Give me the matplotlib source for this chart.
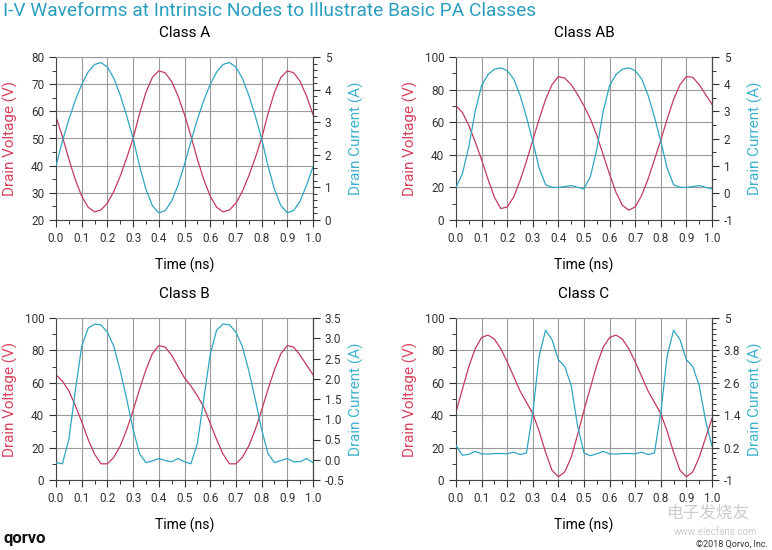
import numpy as np
import matplotlib
matplotlib.use("Agg")
import matplotlib.pyplot as plt
from matplotlib.ticker import MultipleLocator, FixedLocator, FormatStrFormatter

plt.rcParams['font.family'] = ['Roboto', 'DejaVu Sans']

## time axis, read every 0.025 ns
t = [0.0, 0.025, 0.05, 0.075, 0.1, 0.125, 0.15, 0.175, 0.2, 0.225,
     0.25, 0.275, 0.3, 0.325, 0.35, 0.375, 0.4, 0.425, 0.45, 0.475,
     0.5, 0.525, 0.55, 0.575, 0.6, 0.625, 0.65, 0.675, 0.7, 0.725,
     0.75, 0.775, 0.8, 0.825, 0.85, 0.875, 0.9, 0.925, 0.95, 0.975, 1.0]

## Class A
va = [58, 50.7, 42.4, 34.9, 28.8, 24.7, 23.0, 23.7, 26.2, 30.5,
      36.2, 42.8, 50, 59.1, 67.0, 72.5, 74.9, 74.2, 71.0, 65.6,
      58.8, 50.9, 42.4, 34.9, 28.8, 24.7, 23.0, 23.7, 26.2, 30.5,
      36.2, 42.8, 50, 59.1, 67.0, 72.5, 74.9, 74.2, 71.0, 65.6, 58.8]
ia = [1.66, 2.42, 3.08, 3.67, 4.16, 4.54, 4.77, 4.83, 4.69, 4.35,
      3.83, 3.20, 2.5, 1.66, 0.94, 0.44, 0.22, 0.29, 0.58, 1.07,
      1.70, 2.41, 3.08, 3.67, 4.16, 4.54, 4.77, 4.83, 4.69, 4.35,
      3.83, 3.20, 2.5, 1.66, 0.94, 0.44, 0.22, 0.29, 0.58, 1.07, 1.63]

## Class AB
vab = [70, 66, 58, 48, 37, 25, 14, 7, 8, 14,
       24, 36, 49, 62, 74, 83, 88, 87, 83, 77,
       70, 62, 52, 40, 28, 17, 9, 6, 8, 15,
       25, 37, 49, 62, 74, 83, 88, 87.5, 83, 77, 71]
iab = [0.2, 0.7, 1.7, 3.0, 3.95, 4.35, 4.55, 4.6, 4.5, 4.2,
       3.6, 2.8, 1.9, 0.9, 0.3, 0.2, 0.2, 0.23, 0.27, 0.2,
       0.15, 0.6, 1.6, 3.0, 3.95, 4.35, 4.55, 4.6, 4.5, 4.2,
       3.6, 2.8, 1.9, 0.9, 0.3, 0.2, 0.2, 0.23, 0.27, 0.2, 0.15]

## Class B
vb = [65, 61, 55, 46, 36, 25, 16, 10, 10, 14,
      21, 31, 43, 56, 68, 78, 83, 82, 77, 70,
      63, 58, 52, 45, 35, 25, 16, 10, 10, 14,
      21, 31, 43, 56, 68, 78, 83, 82, 77, 71, 65]
ib = [-0.07, -0.1, 0.5, 1.7, 2.8, 3.25, 3.35, 3.33, 3.15, 2.8,
      2.2, 1.5, 0.75, 0.15, -0.07, -0.03, 0.03, -0.02, -0.05, 0.03,
      -0.05, -0.1, 0.4, 1.5, 2.6, 3.2, 3.35, 3.33, 3.15, 2.8,
      2.2, 1.5, 0.75, 0.15, -0.07, -0.02, 0.03, -0.05, -0.05, 0.03, -0.07]

## Class C
vc = [42, 56, 70, 81, 88, 89.5, 87, 81, 73, 64,
      55, 48, 41, 30, 17, 6, 2, 5, 14, 28,
      43, 57, 71, 82, 88, 89.5, 87, 81, 73, 64,
      55, 48, 41, 30, 17, 6, 2, 5, 14, 26, 38]
ic = [0.28, -0.08, -0.05, 0.06, -0.03, -0.04, -0.02, -0.02, -0.03, 0.03,
      -0.06, 0.0, 1.5, 3.6, 4.55, 4.2, 3.45, 3.2, 2.5, 1.0,
      0.0, -0.1, -0.03, 0.06, -0.03, -0.04, -0.02, -0.02, -0.03, 0.03,
      -0.06, 0.0, 1.5, 3.6, 4.55, 4.2, 3.45, 3.2, 2.5, 1.2, 0.25]

red = '#c23a5c'
cyan = '#2ea6c2'
red_lab = '#d8435f'
cyan_lab = '#3cb2d0'
grid_c = '#9a9a9a'

fig = plt.figure(figsize=(7.72, 5.5), dpi=100)
W, H = 772.0, 550.0


def panel(box, title, v, i, vlim, vmaj, vmin, ilim, iticks, iminor, ilabels):
    l, tp, r, b = box
    ax = fig.add_axes([l / W, 1 - b / H, (r - l) / W, (b - tp) / H])
    ax.plot(t, v, color=red, lw=0.9, solid_joinstyle='round')
    ax.set_xlim(0, 1)
    ax.set_ylim(*vlim)
    ax.xaxis.set_major_locator(FixedLocator(np.arange(0, 1.01, 0.1)))
    ax.xaxis.set_major_formatter(FormatStrFormatter('%.1f'))
    ax.xaxis.set_minor_locator(FixedLocator(np.arange(0.05, 1.0, 0.1)))
    ax.yaxis.set_major_locator(MultipleLocator(vmaj))
    ax.yaxis.set_minor_locator(MultipleLocator(vmin))
    ax.grid(True, which='major', color=grid_c, lw=0.8)
    ax.tick_params(labelsize=8.5, colors='#333333', length=5, width=0.8)
    ax.tick_params(which='minor', length=3, width=0.7, colors='#333333')
    for s in ax.spines.values():
        s.set_color('#444444')
        s.set_linewidth(0.8)
    ax.spines['top'].set_color(grid_c)

    ax2 = ax.twinx()
    ax2.plot(t, i, color=cyan, lw=0.9, solid_joinstyle='round')
    ax2.set_ylim(*ilim)
    ax2.yaxis.set_major_locator(FixedLocator(iticks))
    ax2.set_yticklabels(ilabels)
    ax2.yaxis.set_minor_locator(FixedLocator(iminor))
    ax2.tick_params(labelsize=8.5, colors='#333333', length=5, width=0.8)
    ax2.tick_params(which='minor', length=3, width=0.7, colors='#333333')
    for s in ax2.spines.values():
        s.set_visible(False)
    ax2.spines['right'].set_visible(True)
    ax2.spines['right'].set_color('#444444')
    ax2.spines['right'].set_linewidth(0.8)

    cx = (l + r) / 2 / W
    fig.text(cx, 1 - (tp - 24) / H, title, ha='center', va='center', fontsize=11)
    fig.text(cx, 1 - (b + 45) / H, 'Time (ns)', ha='center', va='center', fontsize=10)
    fig.text((l - 46) / W, 1 - (tp + b) / 2 / H, 'Drain Voltage (V)', rotation=90,
             ha='center', va='center', fontsize=11, color=red_lab)
    fig.text((r + 43) / W, 1 - (tp + b) / 2 / H, 'Drain Current (A)', rotation=90,
             ha='center', va='center', fontsize=11, color=cyan_lab)
    return ax


panel((56, 57, 313, 220), 'Class A', va, ia, (20, 80), 10, 5, (0, 5),
      [0, 1, 2, 3, 4, 5], np.arange(0, 5.01, 0.2), ['0', '1', '2', '3', '4', '5'])
panel((456, 57, 712, 220), 'Class AB', vab, iab, (0, 100), 20, 10, (-1, 5),
      [-1, 0, 1, 2, 3, 4, 5], np.arange(-1, 5.01, 0.5),
      ['-1', '0', '1', '2', '3', '4', '5'])
panel((56, 318, 313, 480), 'Class B', vb, ib, (0, 100), 20, 10, (-0.5, 3.5),
      [-0.5, 0, 0.5, 1, 1.5, 2, 2.5, 3, 3.5], [],
      ['-0.5', '0.0', '0.5', '1.0', '1.5', '2.0', '2.5', '3.0', '3.5'])
panel((456, 318, 712, 480), 'Class C', vc, ic, (0, 100), 20, 10, (-1, 5),
      [-1, 0.2, 1.4, 2.6, 3.8, 5], np.arange(-1, 5.01, 0.2),
      ['-1', '0.2', '1.4', '2.6', '3.8', '5'])

fig.text(3 / W, 1 - 11 / H, 'I-V Waveforms at Intrinsic Nodes to Illustrate Basic PA Classes',
         ha='left', va='center', fontsize=13.8, color='#2b9ec0')
fig.text(4 / W, 1 - 539 / H, 'qorvo', ha='left', va='center', fontsize=12,
         fontweight='bold', color='#111111')
fig.text(768 / W, 1 - 544 / H, '\u00a92018 Qorvo, Inc.', ha='right', va='center',
         fontsize=6.5, color='#333333')
fig.text(708 / W, 1 - 513 / H, '电子发烧友', ha='center', va='center', fontsize=12,
         color='#cccccc', family=['Noto Sans CJK SC', 'DejaVu Sans'])
fig.text(715 / W, 1 - 532 / H, 'www.elecfans.com', ha='center', va='center',
         fontsize=7, color='#cccccc')

fig.savefig('out.png', dpi=100)
